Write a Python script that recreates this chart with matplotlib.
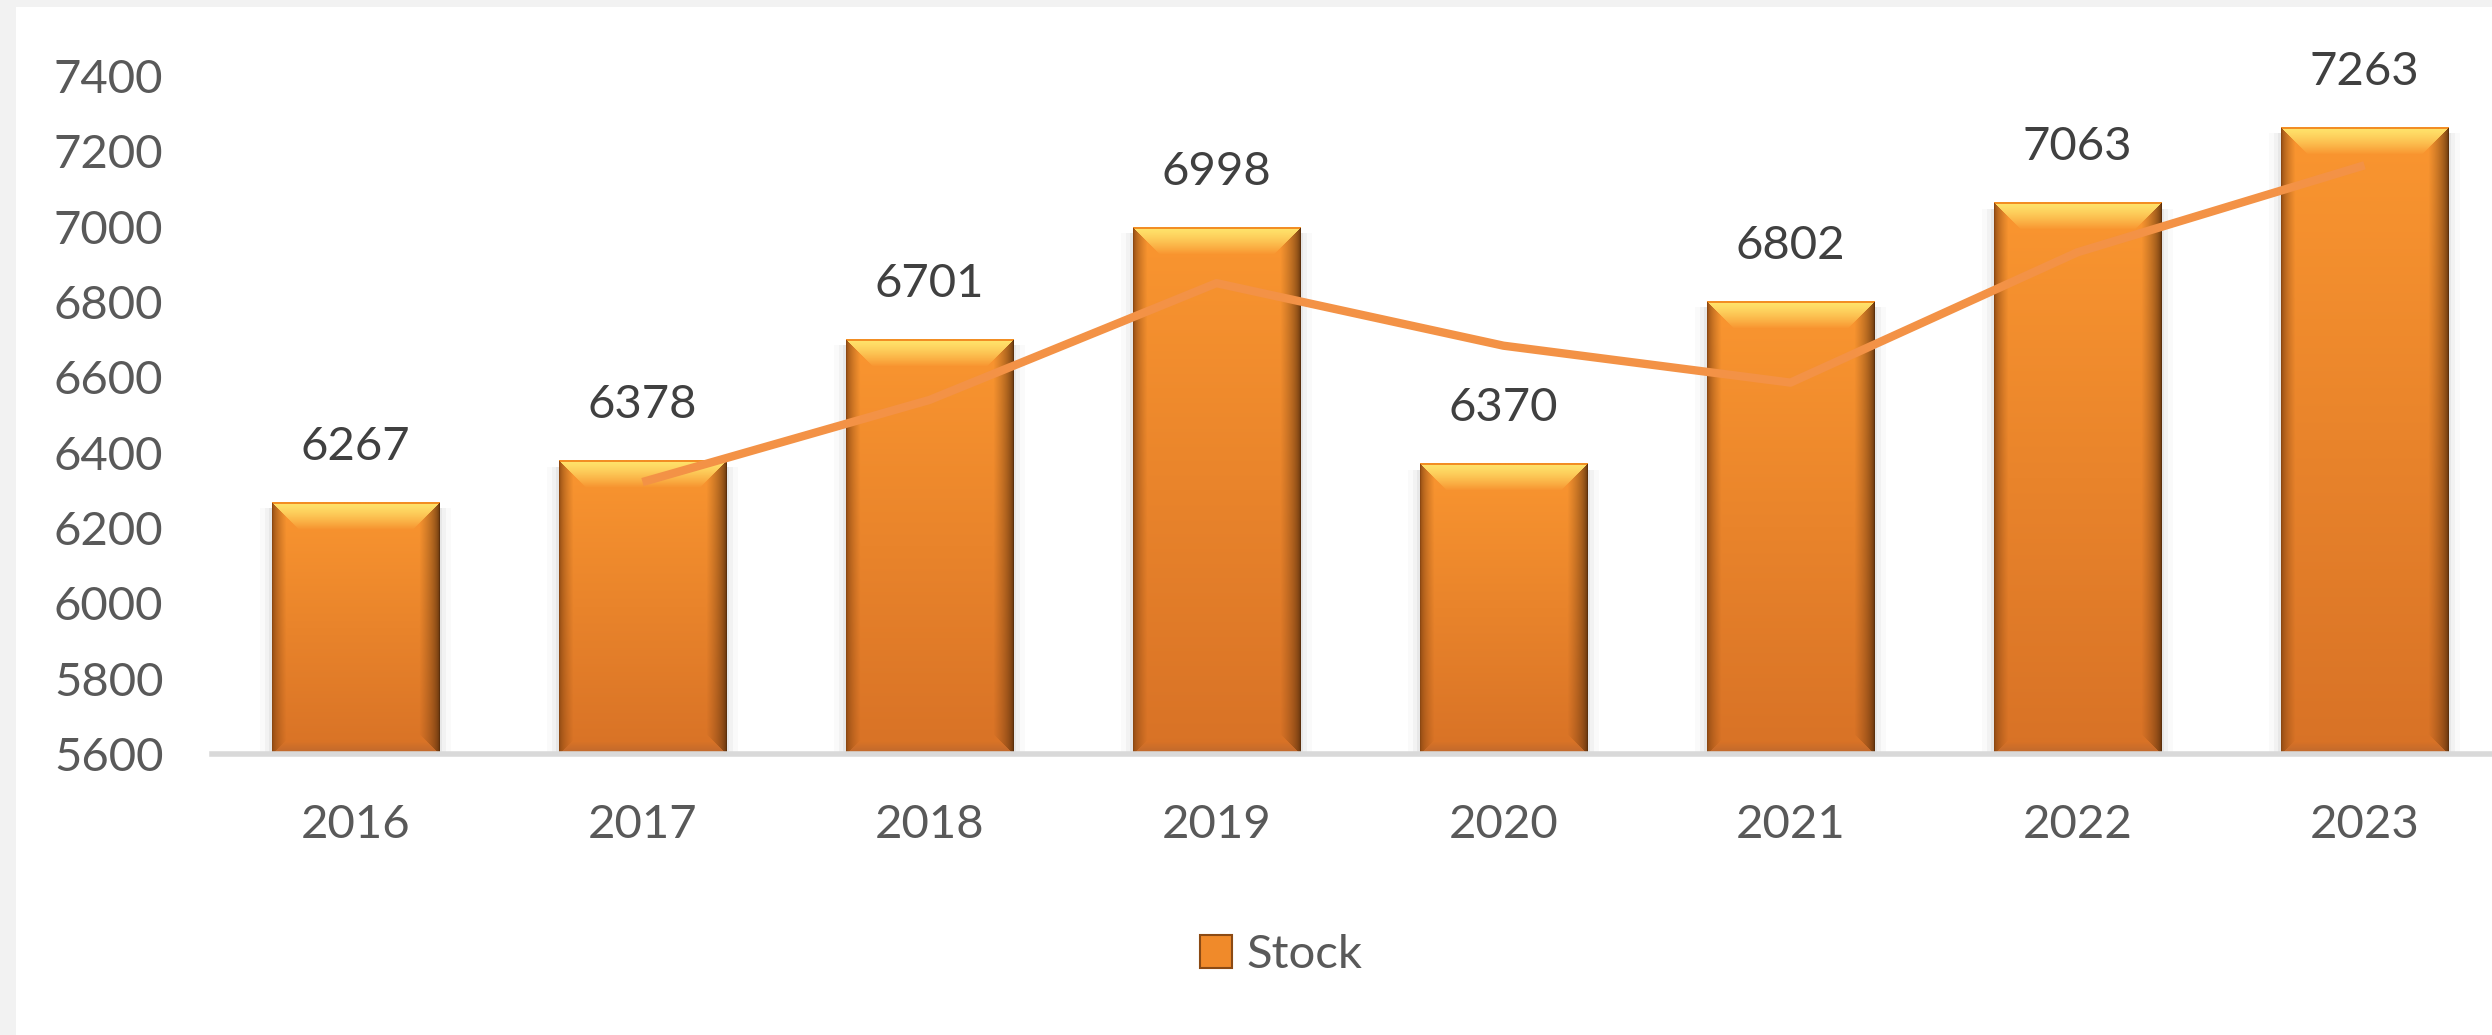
import numpy as np
import matplotlib.pyplot as plt
from matplotlib.patches import Rectangle, Patch

# data
years = ['2016', '2017', '2018', '2019', '2020', '2021', '2022', '2023']
stock = [6267, 6378, 6701, 6998, 6370, 6802, 7063, 7263]
# trend line (starts at 2017)
trend_years = ['2017', '2018', '2019', '2020', '2021', '2022', '2023']
trend = [6322, 6540, 6850, 6684, 6586, 6932, 7163]
y_ticks = [5600, 5800, 6000, 6200, 6400, 6600, 6800, 7000, 7200, 7400]

W, H, DPI = 2492, 1035, 100
plt.rcParams['font.family'] = ['Lato', 'DejaVu Sans']

fig = plt.figure(figsize=(W / DPI, H / DPI), dpi=DPI)
fig.patch.set_facecolor('#F2F2F2')
# white chart area (screenshot has a grey frame left and top)
fig.add_artist(Rectangle((16 / W, 0), 1, (H - 7) / H, transform=fig.transFigure,
                         facecolor='white', edgecolor='none', zorder=0))

ax = fig.add_axes([212 / W, 281 / H, 2296 / W, 678 / H], zorder=1)
ax.set_facecolor('none')
x = np.arange(len(years))
ax.set_xlim(-0.5, len(years) - 0.5)
ax.set_ylim(y_ticks[0], y_ticks[-1])
ymin = y_ticks[0]


def bevel_image(w, h):
    """RGB image of one bevelled bar, w x h pixels."""
    w, h = max(int(round(w)), 2), max(int(round(h)), 2)
    yy, xx = np.mgrid[0:h, 0:w].astype(float)
    dl, dr, dt, db = xx, w - 1 - xx, yy, h - 1 - yy
    top = np.array([250, 150, 48]) / 255
    bot = np.array([216, 114, 38]) / 255
    f = (yy / (h - 1))[..., None]
    base = top * (1 - f) + bot * f
    img = base.copy()

    def blend(mask, col, t):
        t = np.clip(t, 0, 1)[..., None]
        c = np.array(col) / 255
        mixed = c * (1 - t) + base * t
        img[mask] = mixed[mask]

    # top bevel (yellow highlight)
    bt = 27
    m_top = (dt < bt) & (dt <= dl) & (dt <= dr)
    blend(m_top, (255, 228, 108), (dt / bt) ** 1.3)
    img[(dt < 2) & m_top] = np.array([242, 142, 36]) / 255
    # left edge
    bl = 14
    m_l = (dl < bl) & (dl < dt) & (dl <= db)
    blend(m_l, (140, 72, 18), (dl / bl) ** 0.6)
    # right edge
    br = 20
    m_r = (dr < br) & (dr < dt) & (dr <= db)
    blend(m_r, (92, 48, 12), (dr / br) ** 0.55)
    # bottom band
    bb = 12
    m_b = (db < bb) & (db < dl) & (db < dr)
    blend(m_b, (190, 104, 46), db / bb)
    return img


bars = ax.bar(x, stock, width=0.582, color='none', edgecolor='none', zorder=2)
px = ax.transData.transform((0, 0))
dx_px = ax.transData.transform((1, 0))[0] - px[0]  # pixels per category
for rect, v in zip(bars, stock):
    x0 = rect.get_x()
    x1 = x0 + rect.get_width()
    p0 = ax.transData.transform((x0, ymin))
    p1 = ax.transData.transform((x1, v))
    # soft shadow at the sides
    for k, a in [(3, 0.10), (7, 0.06), (12, 0.035)]:
        e = k / dx_px
        ax.add_patch(Rectangle((x0 - e, ymin), rect.get_width() + 2 * e, v - ymin - 15,
                               facecolor='#808080', alpha=a, edgecolor='none', zorder=1.5))
    img = bevel_image(p1[0] - p0[0], p1[1] - p0[1])
    ax.imshow(img, extent=(x0, x1, ymin, v), aspect='auto',
              interpolation='bilinear', zorder=2)
    ax.annotate(f'{v}', (rect.get_x() + rect.get_width() / 2, v),
                xytext=(0, 40), textcoords='offset points', ha='center', va='center',
                fontsize=34, color='#404040', zorder=5)

# trend line
tx = [years.index(yr) for yr in trend_years]
ax.plot(tx, trend, color='#F39246', lw=6, solid_capstyle='butt', zorder=4)

ax.set_xlim(-0.5, len(years) - 0.5)
ax.set_ylim(y_ticks[0], y_ticks[-1])
ax.set_xticks(x)
ax.set_xticklabels(years)
ax.set_yticks(y_ticks)
ax.tick_params(length=0, labelsize=34, labelcolor='#595959')
ax.tick_params(axis='y', pad=35)
ax.tick_params(axis='x', pad=36)
for s in ['top', 'right', 'left']:
    ax.spines[s].set_visible(False)
ax.spines['bottom'].set_color('#D9D9D9')
ax.spines['bottom'].set_linewidth(4)
ax.spines['bottom'].set_zorder(3)

handle = Patch(facecolor='#F08A2A', edgecolor='#8B4A14', linewidth=1.5)
leg = fig.legend(handles=[handle], labels=['Stock'], loc='center',
                 bbox_to_anchor=(1281 / W, 1 - 955 / H), frameon=False, fontsize=34,
                 handlelength=0.68, handleheight=0.68, handletextpad=0.3)
for t in leg.get_texts():
    t.set_color('#595959')

fig.savefig('out.png', dpi=DPI, facecolor=fig.get_facecolor())
